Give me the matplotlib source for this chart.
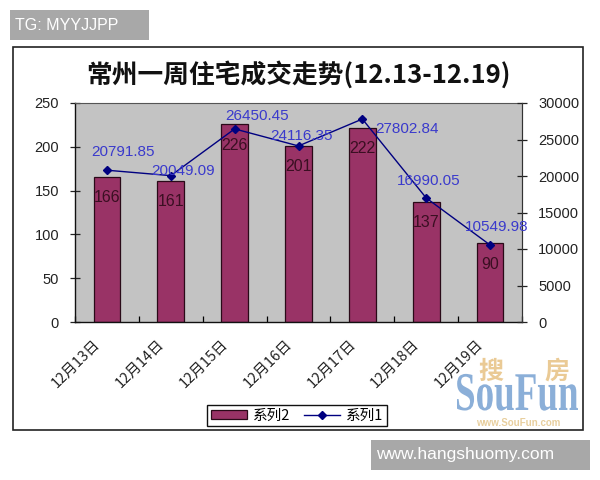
import numpy as np
import matplotlib.pyplot as plt
from matplotlib.patches import Rectangle, PathPatch
from matplotlib.lines import Line2D
from matplotlib.textpath import TextPath
from matplotlib.font_manager import FontProperties
from matplotlib.transforms import Affine2D, IdentityTransform, ScaledTranslation

plt.rcParams["font.family"] = ["Liberation Sans", "Noto Sans CJK SC", "DejaVu Sans"]

days = ["12月13日", "12月14日", "12月15日", "12月16日", "12月17日", "12月18日", "12月19日"]
units = [166, 161, 226, 201, 222, 137, 90]                # 系列2 (bars, left axis)
area = [20791.85, 20049.09, 26450.45, 24116.35, 27802.84, 16990.05, 10549.98]  # 系列1 (line, right axis)
left_ticks = [0, 50, 100, 150, 200, 250]
right_ticks = [0, 5000, 10000, 15000, 20000, 25000, 30000]

# label nudges in pixels (the excel labels were moved by hand)
line_label_nudge = [(16, 18), (12, 5), (22, 13), (3, 10), (45, -10), (2, 17), (7, 18)]

cjk = ["Noto Sans CJK SC", "DejaVu Sans"]
maroon = "#993366"
navy = "#000080"
label_blue = "#3a3acc"

fig = plt.figure(figsize=(6, 4.8), dpi=100)
fig.patch.set_facecolor("white")

# outer chart frame
fig.patches.append(Rectangle((13 / 600, 1 - 430 / 480), 570 / 600, 383 / 480,
                             transform=fig.transFigure, fill=False,
                             edgecolor="#222222", linewidth=1.2))

ax = fig.add_axes([75 / 600, 1 - 322 / 480, 447 / 600, 219 / 480])
ax.set_facecolor("#c3c3c3")
x = np.arange(len(days))
ax.bar(x, units, width=0.42, color=maroon, edgecolor="#2a0a18", linewidth=0.9, zorder=2)
ax.set_xlim(-0.5, len(days) - 0.5)
ax.set_ylim(0, 250)
ax.set_yticks(left_ticks)
ax.tick_params(axis="y", direction="inout", length=7, width=0.9, pad=8, labelsize=10.5,
               colors="#222222")
for xi, v in zip(x, units):
    ax.annotate(str(v), (xi, v), xytext=(0, -21), textcoords="offset pixels",
                ha="center", va="center", fontsize=11.5, color="#3a0f22")

ax.set_xticks(x)
ax.set_xticklabels(days, rotation=45, ha="right", va="center", rotation_mode="anchor",
                   family=cjk, fontsize=10.5, color="#222222")
ax.set_xticks(np.arange(-0.5, len(days)), minor=True)
ax.tick_params(axis="x", which="major", length=0, pad=0)
ax.tick_params(axis="x", which="minor", direction="in", length=4, width=0.9)
shift = ScaledTranslation(-9 / 100, -20 / 100, fig.dpi_scale_trans)
for lab in ax.get_xticklabels():
    lab.set_transform(lab.get_transform() + shift)

for side in ["left", "bottom"]:
    ax.spines[side].set_color("#111111")
    ax.spines[side].set_linewidth(1.0)
for side in ["top", "right"]:
    ax.spines[side].set_color("#555555")

ax2 = ax.twinx()
ax2.plot(x, area, color=navy, linewidth=1.0, marker="D", markersize=4.5, zorder=3)
ax2.set_ylim(0, 30000)
ax2.set_yticks(right_ticks)
ax2.tick_params(axis="y", direction="inout", length=7, width=0.9, pad=8, labelsize=10.5,
                colors="#222222")
for side in ["left", "bottom", "top"]:
    ax2.spines[side].set_visible(False)
ax2.spines["right"].set_color("#333333")
for xi, v, (dx, dy) in zip(x, area, line_label_nudge):
    ax2.annotate(f"{v:.2f}", (xi, v), xytext=(dx, dy), textcoords="offset pixels",
                 ha="center", va="center", fontsize=11, color=label_blue,
                 annotation_clip=False)

fig.text(0.497, 1 - 75 / 480, "常州一周住宅成交走势(12.13-12.19)", ha="center", va="center",
         fontsize=18.5, fontweight="bold", family=cjk, color="#111111")

handles = [Rectangle((0, 0), 1, 1, facecolor=maroon, edgecolor="#2a0a18", linewidth=0.9),
           Line2D([], [], color=navy, linewidth=1.0, marker="D", markersize=4)]
leg = fig.legend(handles, ["系列2", "系列1"], loc="center", ncol=2,
                 bbox_to_anchor=(297 / 600, 1 - 415.5 / 480), frameon=True, fancybox=False,
                 edgecolor="#111111", framealpha=1, prop={"family": cjk, "size": 10.5},
                 handlelength=2.5, handleheight=0.55, columnspacing=0.9, handletextpad=0.4,
                 borderpad=0.25)
leg.get_frame().set_linewidth(1.0)

# SouFun watermark
ident = IdentityTransform()
H = 480
fig.text(491 / 600, 1 - 372 / H, "搜", ha="center", va="center", fontsize=18,
         fontweight="bold", family=cjk, color="#e8c58a", alpha=0.9)
fig.text(557 / 600, 1 - 372 / H, "房", ha="center", va="center", fontsize=18,
         fontweight="bold", family=cjk, color="#e8c58a", alpha=0.9)
tp = TextPath((0, 0), "SouFun", size=1, prop=FontProperties(family="Liberation Serif", weight="bold"))
ext = tp.get_extents()
sx = 121 / ext.width
sy = 36 / 0.66
tr = Affine2D().translate(-ext.x0, 0).scale(sx, sy).translate(457, H - 410)
fig.patches.append(PathPatch(tr.transform_path(tp), transform=ident, facecolor="#7fa6d4",
                             edgecolor="none", alpha=0.9))
fig.text(518 / 600, 1 - 423 / H, "www.SouFun.com", ha="center", va="center", fontsize=7,
         fontweight="bold", color="#e8cf9e")

# site watermarks
fig.patches.append(Rectangle((10 / 600, 1 - 40 / H), 139 / 600, 30 / H, transform=fig.transFigure,
                             facecolor="#a8a8a8", edgecolor="none"))
fig.text(15 / 600, 1 - 25 / H, "TG: MYYJJPP", ha="left", va="center", fontsize=11.5,
         color="white")
fig.patches.append(Rectangle((371 / 600, 1 - 470 / H), 219 / 600, 30 / H, transform=fig.transFigure,
                             facecolor="#a8a8a8", edgecolor="none"))
fig.text(376 / 600, 1 - 455 / H, "www.hangshuomy.com", ha="left", va="center", fontsize=12.5,
         color="white")

fig.savefig("out.png", dpi=100)
